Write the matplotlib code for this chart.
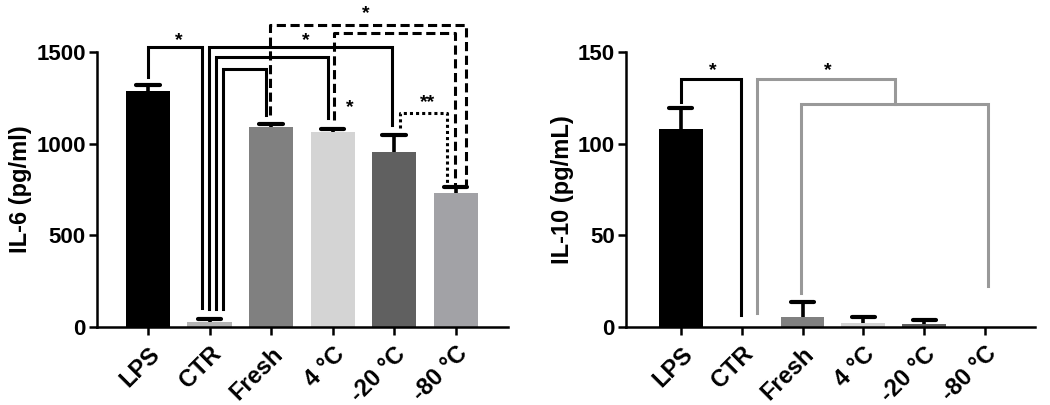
import numpy as np
import matplotlib
matplotlib.use("Agg")
import matplotlib.pyplot as plt

plt.rcParams['font.family'] = ['Liberation Sans', 'DejaVu Sans']
plt.rcParams['font.weight'] = 'bold'

groups = ['LPS', 'CTR', 'Fresh', '4 °C', '-20 °C', '-80 °C']
colors = ['#000000', '#b4b4b4', '#808080', '#d4d4d4', '#606060', '#a2a2a6']

il6 = [1290, 25, 1090, 1065, 955, 730]
il6_err = [30, 20, 15, 15, 92, 33]

il10 = [108, 0, 5.5, 2.2, 1.8, 0]
il10_err = [11.5, 0, 8, 3, 2, 0]


def bracket(ax, x1, x2, y, y1, y2, color='black', ls='-', lw=2.2):
    ax.plot([x1, x1, x2, x2], [y1, y, y, y2], color=color, ls=ls, lw=lw,
            clip_on=False, solid_joinstyle='miter', zorder=5)


def star(ax, x, y, s):
    ax.text(x, y, s, ha='center', va='center', fontsize=14, fontweight='bold',
            clip_on=False, zorder=6)


def setup(ax, ymax, ystep, xlim, ylabel):
    x = np.arange(len(groups))
    ax.set_xlim(*xlim)
    ax.set_ylim(0, ymax)
    ax.set_yticks(np.arange(0, ymax + 1, ystep))
    ax.set_xticks(x)
    ax.set_xticklabels(groups, rotation=45, ha='right', rotation_mode='anchor',
                       fontsize=17)
    ax.spines['right'].set_visible(False)
    ax.spines['top'].set_visible(False)
    for s in ['left', 'bottom']:
        ax.spines[s].set_linewidth(1.8)
    ax.tick_params(axis='both', width=1.8, length=6)
    ax.tick_params(axis='y', labelsize=16, pad=2)
    ax.tick_params(axis='x', pad=5)
    ax.set_ylabel(ylabel, fontsize=17, fontweight='bold', labelpad=3)


def draw_bars(ax, vals, errs):
    x = np.arange(len(groups))
    vals = np.array(vals, dtype=float)
    errs = np.array(errs, dtype=float)
    ax.bar(x, vals, width=0.72, color=colors, zorder=2)
    m = errs > 0
    top = vals + errs
    ax.vlines(x[m], vals[m], top[m], color='black', lw=2.6, zorder=3)
    ax.hlines(top[m], x[m] - 0.19, x[m] + 0.19, color='black', lw=3.0,
              zorder=3, capstyle='round')


fig = plt.figure(figsize=(10.5, 4.05), dpi=100)

# IL-6 panel
ax1 = fig.add_axes([0.0924, 0.1926, 0.3914, 0.679])
draw_bars(ax1, il6, il6_err)
setup(ax1, 1500, 500, (-0.83, 5.85), 'IL-6 (pg/ml)')

bracket(ax1, 0, 0.88, 1527, 1364, 104)
star(ax1, 0.5, 1565, '*')
bracket(ax1, 0.99, 3.97, 1527, 100, 1100)
bracket(ax1, 1.10, 2.93, 1473, 100, 1140)
bracket(ax1, 1.21, 1.91, 1407, 100, 1157)
star(ax1, 2.56, 1560, '*')
bracket(ax1, 1.98, 5.16, 1648, 1157, 775, ls=(0, (3, 1.5)))
bracket(ax1, 3.02, 4.99, 1604, 1130, 775, ls=(0, (3, 1.5)))
star(ax1, 3.54, 1710, '*')
star(ax1, 3.28, 1195, '*')
bracket(ax1, 4.09, 4.86, 1168, 1085, 775, ls=(0, (1, 1)))
star(ax1, 4.55, 1225, '**')

# IL-10 panel
ax2 = fig.add_axes([0.5962, 0.1926, 0.3895, 0.679])
draw_bars(ax2, il10, il10_err)
setup(ax2, 150, 50, (-0.9, 5.82), 'IL-10 (pg/mL)')

bracket(ax2, 0, 0.99, 135.3, 123, 6.5)
star(ax2, 0.53, 140, '*')
bracket(ax2, 1.25, 3.52, 135.3, 7.6, 121.7, color='#999999')
bracket(ax2, 1.97, 5.04, 121.7, 18.5, 22.4, color='#999999')
star(ax2, 2.41, 140, '*')

fig.savefig('out.png', dpi=100)
